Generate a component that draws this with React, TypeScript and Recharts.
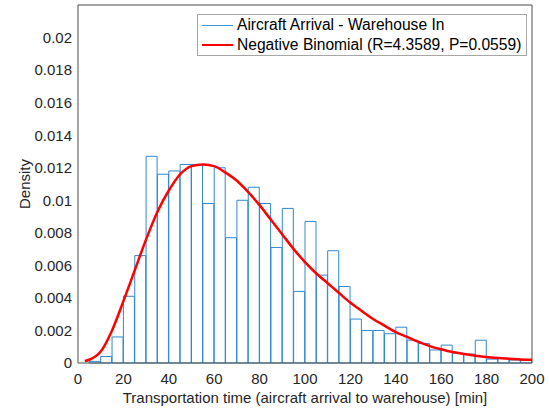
import { ComposedChart, Bar, Line, XAxis, YAxis, Legend } from "recharts";

const binStarts = [
  0, 5, 10, 15, 20, 25, 30, 35, 40, 45, 50, 55, 60, 65, 70, 75, 80, 85, 90, 95,
  100, 105, 110, 115, 120, 125, 130, 135, 140, 145, 150, 155, 160, 165, 170, 175,
  180, 185, 190, 195,
];
const binDensity = [
  0, 0.0001, 0.0004, 0.0016, 0.0041, 0.0066, 0.0127, 0.0116, 0.0118, 0.0122,
  0.0122, 0.0098, 0.012, 0.0077, 0.01, 0.0108, 0.0098, 0.0071, 0.0095, 0.0044,
  0.0087, 0.0054, 0.0069, 0.0047, 0.0027, 0.002, 0.002, 0.0018, 0.0022, 0.0014,
  0.0012, 0.0008, 0.0011, 0.0006, 0.00055, 0.0014, 0.00024, 0.0003, 0.00018,
  0.00016,
];

const fitTime = [
  3, 5, 10, 15, 20, 25, 30, 35, 40, 45, 50, 55, 60, 65, 70, 75, 80, 85, 90, 95,
  100, 105, 110, 115, 120, 125, 130, 135, 140, 145, 150, 155, 160, 165, 170, 175,
  180, 185, 190, 195, 200,
];
const fitDensity = [
  0.00012, 0.0002, 0.0007, 0.002, 0.0038, 0.0057, 0.0076, 0.0093, 0.0106,
  0.0116, 0.0121, 0.0122, 0.0121, 0.0117, 0.0112, 0.0105, 0.0097, 0.0088,
  0.0079, 0.007, 0.0062, 0.0055, 0.0049, 0.0043, 0.0037, 0.0032, 0.0027,
  0.0023, 0.0019, 0.0016, 0.0013, 0.00104, 0.00084, 0.00067, 0.00055, 0.00045,
  0.00037, 0.0003, 0.00026, 0.00022, 0.0002,
];

const xTicks = [0, 20, 40, 60, 80, 100, 120, 140, 160, 180, 200];
const yTicks = [
  0, 0.002, 0.004, 0.006, 0.008, 0.01, 0.012, 0.014, 0.016, 0.018, 0.02,
];

const legendItems = [
  { label: "Aircraft Arrival - Warehouse In", color: "#3d95d8", width: 1.2 },
  { label: "Negative Binomial (R=4.3589, P=0.0559)", color: "#ff0000", width: 2.5 },
];

const FONT = "'Liberation Sans', Arial, Helvetica, sans-serif";
const TEXT = "#262626";
const AXIS = "#4d4d4d";

const bins = binStarts.map((b, i) => ({ bin: b, density: binDensity[i] }));
const fit = fitTime.map((t, i) => ({ t, d: fitDensity[i] }));

function LegendBox() {
  return (
    <div
      style={{
        width: 330,
        height: 42,
        border: "1px solid #a6a6a6",
        background: "#fff",
        boxSizing: "border-box",
        paddingTop: 0.5,
        fontFamily: FONT,
        fontSize: 15.6,
        color: "#000",
        whiteSpace: "nowrap",
      }}
    >
      {legendItems.map((it) => (
        <div
          key={it.label}
          style={{ display: "flex", alignItems: "center", height: 19.5 }}
        >
          <div
            style={{
              width: 31,
              marginLeft: 4,
              marginRight: 4,
              height: it.width,
              background: it.color,
            }}
          />
          <span>{it.label}</span>
        </div>
      ))}
    </div>
  );
}

export default function App() {
  return (
    <div style={{ position: "absolute", left: 0, top: 0, background: "#fff" }}>
      <ComposedChart
        width={549}
        height={410}
        data={bins}
        margin={{ top: 5, right: 17, left: 0, bottom: 0 }}
        barCategoryGap={0}
        barGap={0}
        style={{ fontFamily: FONT }}
      >
        <XAxis
          xAxisId="num"
          type="number"
          dataKey="t"
          domain={[0, 200]}
          ticks={xTicks}
          allowDataOverflow
          height={47}
          stroke={AXIS}
          axisLine={{ stroke: AXIS, strokeWidth: 1 }}
          tickLine={false}
          tickSize={0}
          tickMargin={10}
          tick={{ fill: TEXT, fontSize: 15 }}
          label={{
            value: "Transportation time (aircraft arrival to warehouse) [min]",
            position: "insideBottom",
            offset: 7,
            fill: TEXT,
            fontSize: 15,
          }}
        />
        <XAxis xAxisId="cat" dataKey="bin" hide height={0} />
        <XAxis
          xAxisId="numIn"
          type="number"
          domain={[0, 200]}
          ticks={xTicks}
          mirror
          height={1}
          stroke={AXIS}
          axisLine={false}
          tick={false}
          tickLine={{ stroke: AXIS }}
          tickSize={5}
        />
        <XAxis
          xAxisId="top"
          orientation="top"
          type="number"
          domain={[0, 200]}
          ticks={xTicks}
          mirror
          height={1}
          stroke={AXIS}
          axisLine={{ stroke: AXIS }}
          tick={false}
          tickLine={{ stroke: AXIS }}
          tickSize={5}
        />
        <YAxis
          yAxisId="left"
          domain={[0, 0.022]}
          ticks={yTicks}
          width={78}
          stroke={AXIS}
          axisLine={{ stroke: AXIS, strokeWidth: 1 }}
          tickLine={false}
          tickSize={0}
          tickMargin={6}
          tick={{ fill: TEXT, fontSize: 15 }}
          tickFormatter={(v: number) => String(Number(v.toFixed(3)))}
          label={{
            value: "Density",
            angle: -90,
            position: "insideLeft",
            offset: 25,
            fill: TEXT,
            fontSize: 15,
            style: { textAnchor: "middle" },
          }}
        />
        <YAxis
          yAxisId="leftIn"
          domain={[0, 0.022]}
          ticks={yTicks}
          mirror
          width={1}
          stroke={AXIS}
          axisLine={false}
          tick={false}
          tickLine={{ stroke: AXIS }}
          tickSize={5}
        />
        <YAxis
          yAxisId="right"
          orientation="right"
          domain={[0, 0.022]}
          ticks={yTicks}
          mirror
          width={1}
          stroke={AXIS}
          axisLine={{ stroke: AXIS }}
          tick={false}
          tickLine={{ stroke: AXIS }}
          tickSize={5}
        />
        <Legend
          layout="vertical"
          align="center"
          verticalAlign="middle"
          wrapperStyle={{ left: 197, top: 14, width: 330 }}
          content={() => <LegendBox />}
        />
        <Bar
          xAxisId="cat"
          yAxisId="left"
          dataKey="density"
          fill="none"
          stroke="#3189cf"
          strokeWidth={1}
          isAnimationActive={false}
        />
        <Line
          xAxisId="num"
          yAxisId="left"
          data={fit}
          dataKey="d"
          type="monotone"
          stroke="#ff0000"
          strokeWidth={2.5}
          dot={false}
          isAnimationActive={false}
        />
      </ComposedChart>
    </div>
  );
}
